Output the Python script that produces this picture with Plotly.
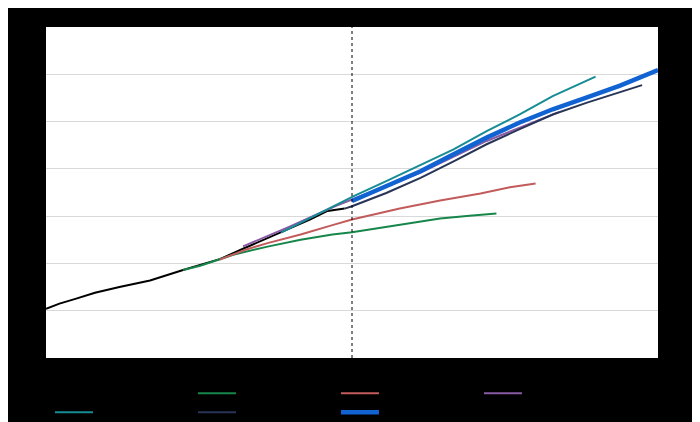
import plotly.graph_objects as go

# ---- data ----
hist_years = [2000, 2001.1, 2002.4, 2004.0, 2006.0, 2008.5, 2011.2, 2014.2, 2016.1, 2019.2, 2021.6, 2023.0, 2024.4]
hist_vals = [10.4, 11.5, 12.5, 13.8, 15.0, 16.4, 18.6, 20.9, 23.1, 26.5, 29.3, 31.1, 31.6]

p2011_years = [2011.2, 2012.6, 2015.3, 2018.1, 2020.8, 2023.4, 2025.0, 2028.9, 2032.2, 2034.6, 2036.8]
p2011_vals = [18.6, 19.5, 21.85, 23.55, 25.0, 26.1, 26.6, 28.2, 29.5, 30.1, 30.55]

p2014_years = [2014.2, 2016.3, 2018.1, 2020.8, 2023.4, 2025.0, 2028.9, 2032.2, 2035.5, 2037.9, 2040.0]
p2014_vals = [20.8, 22.9, 24.3, 26.1, 28.1, 29.3, 31.6, 33.3, 34.8, 36.1, 36.9]

p2016_years = [2016.1, 2019.9, 2023.7, 2030.6, 2036.0, 2041.9]
p2016_vals = [23.6, 27.8, 32.2, 39.2, 45.9, 52.0]

p2019_years = [2019.2, 2022.4, 2025.1, 2027.8, 2030.6, 2033.3, 2036.0, 2038.7, 2041.4, 2044.9]
p2019_vals = [26.5, 30.7, 34.2, 37.4, 40.9, 44.1, 48.0, 51.5, 55.4, 59.5]

p2024_years = [2024.4, 2025.0, 2027.8, 2030.6, 2033.3, 2036.0, 2038.7, 2041.4, 2044.2, 2048.7]
p2024_vals = [31.6, 32.1, 34.9, 38.1, 41.6, 45.2, 48.4, 51.5, 54.0, 57.7]

p2025_years = [2025.0, 2027.8, 2030.6, 2033.3, 2036.0, 2038.7, 2041.4, 2044.2, 2046.9, 2050.0]
p2025_vals = [33.2, 36.3, 39.5, 43.1, 46.6, 49.8, 52.6, 55.1, 57.6, 60.9]

series_names = ["Historical", "2011 projection", "2014 projection", "2016 projection",
                "2019 projection", "2024 projection", "2025 projection"]
today_year = 2025

# ---- styles ----
colors = ["#000000", "#17864a", "#c25b5b", "#8a5aa6", "#168c94", "#283556", "#1263d2"]
widths = [2, 2, 2, 2, 2, 2, 4.5]

series = [
    (hist_years, hist_vals),
    (p2011_years, p2011_vals),
    (p2014_years, p2014_vals),
    (p2016_years, p2016_vals),
    (p2019_years, p2019_vals),
    (p2024_years, p2024_vals),
    (p2025_years, p2025_vals),
]

fig = go.Figure()
for i in range(7):
    xs, ys = series[i]
    fig.add_trace(go.Scatter(
        x=xs, y=ys, mode="lines", name=series_names[i],
        line=dict(color=colors[i], width=widths[i]),
    ))

fig.add_vline(x=today_year, line=dict(color="black", width=1, dash="3px,3px"))

fig.update_layout(
    width=692, height=414,
    paper_bgcolor="black",
    plot_bgcolor="white",
    margin=dict(l=38, r=42, t=19, b=64, autoexpand=False),
    font=dict(family="Liberation Sans, Arial, sans-serif", size=12, color="black"),
    showlegend=True,
    legend=dict(
        orientation="h", x=0.0065, xanchor="left", y=-0.0625, yanchor="top",
        entrywidth=90, entrywidthmode="pixels", itemwidth=38,
        font=dict(color="black", size=12),
        bgcolor="rgba(0,0,0,0)",
    ),
    xaxis=dict(
        range=[2000, 2050], showgrid=False, zeroline=False,
        tickfont=dict(color="black", size=11), showline=False,
        dtick=10, ticklabelstandoff=4,
    ),
    yaxis=dict(
        range=[0, 70], dtick=10, showgrid=True, gridcolor="#d9d9d9", gridwidth=1,
        zeroline=False, showline=False, tickfont=dict(color="black", size=11),
        ticklabelstandoff=4,
    ),
)

fig.write_html("out.html")
